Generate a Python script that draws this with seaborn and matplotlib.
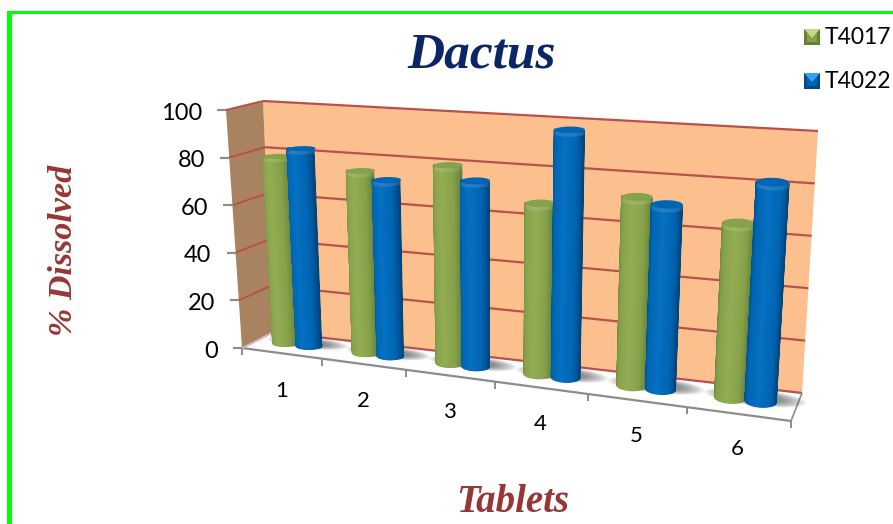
import numpy as np
import pandas as pd
import seaborn as sns
import matplotlib.pyplot as plt
from matplotlib.patches import Polygon, Rectangle
from matplotlib.transforms import Affine2D, Transform

# values
tablets = ["1", "2", "3", "4", "5", "6"]
t4017 = [79, 75.5, 80.5, 68, 73.5, 66.5]
t4022 = [83, 72.5, 75, 98, 71.5, 83]
y_ticks = [0, 20, 40, 60, 80, 100]

W, H = 893, 524
WALL = "#FCC08E"
SIDE = "#A9835F"
RED = "#B9504C"
GREY = "#8C8C8C"
# dark edge -> base -> highlight -> base -> dark edge
GREEN_SHADES = ["#66803A", "#86A24A", "#93AD54", "#86A24A", "#64803A"]
BLUE_SHADES = ["#00467F", "#0066B4", "#0670C2", "#0066B4", "#00467F"]

# the box of the 3D chart, in image pixels: (front/back, bottom/top, left/right)
FL0, FR0 = np.array([242, 348.]), np.array([791, 421.])
FL1, FR1 = np.array([226, 110.]), np.array([808, 150.])
BL0, BR0 = np.array([273, 332.]), np.array([802, 393.])
BL1, BR1 = np.array([263, 101.]), np.array([818, 131.])
K = 1.17  # perspective along the category axis
BAR_Z = 0.55
BAR_RZ = 0.21


def warp(x, v, z):
    """category position, value, depth (0 front, 1 back) -> image pixel"""
    x, v, z = np.asarray(x, float), np.asarray(v, float), np.asarray(z, float)
    u = (x + 0.5) / len(tablets)
    t = (u / (u + K * (1 - u)))[..., None]
    v = (v / 100)[..., None]
    z = z[..., None]
    front = (1 - v) * ((1 - t) * FL0 + t * FR0) + v * ((1 - t) * FL1 + t * FR1)
    back = (1 - v) * ((1 - t) * BL0 + t * BR0) + v * ((1 - t) * BL1 + t * BR1)
    return (1 - z) * front + z * back


class Warp(Transform):
    input_dims = output_dims = 2
    has_inverse = False

    def __init__(self, z):
        super().__init__()
        self.z = z

    def transform_non_affine(self, values):
        values = np.asarray(values)
        return warp(values[:, 0], values[:, 1], self.z)


sns.set_theme(style="white")
plt.rcParams["font.family"] = ["Lato", "DejaVu Sans"]

df = pd.DataFrame({
    "Tablet": tablets * 2,
    "Dissolved": t4017 + t4022,
    "Series": ["T4017"] * 6 + ["T4022"] * 6,
})

fig = plt.figure(figsize=(W / 100, H / 100), dpi=100)
ax = fig.add_axes([0, 0, 1, 1])
sns.barplot(data=df, x="Tablet", y="Dissolved", hue="Series",
            palette=["#86A24A", "#0066B4"], width=0.6, gap=0, legend=False,
            errorbar=None, saturation=1, ax=ax)
bars = list(ax.patches)
ax.set_axis_off()

px = Affine2D().scale(1, -1).translate(0, H)


def poly(points, **kw):
    kw.setdefault("lw", 0)
    p = Polygon(points, closed=True, transform=px, clip_on=False, **kw)
    ax.add_patch(p)
    return p


def line(points, color, lw, zorder=2):
    points = np.array(points)
    ax.plot(points[:, 0], points[:, 1], color=color, lw=lw, transform=px,
            clip_on=False, zorder=zorder, solid_capstyle="butt")


# green frame of the pasted picture
ax.add_patch(Rectangle((7, 11), 5, H, color="#00FF00", lw=0, transform=px, zorder=1))
ax.add_patch(Rectangle((7, 11), W, 2.5, color="#00FF00", lw=0, transform=px, zorder=1))

# walls and floor
xs = np.linspace(-0.5, 5.5, 40)
edge = lambda v, z: warp(xs, np.full_like(xs, v), np.full_like(xs, z))
poly(np.vstack([edge(0, 1), edge(100, 1)[::-1]]), color=WALL, zorder=1)
poly([warp(-0.5, 0, 0), warp(-0.5, 100, 0), warp(-0.5, 100, 1), warp(-0.5, 0, 1)],
     color=SIDE, zorder=1)
poly(np.vstack([edge(0, 0), edge(0, 1)[::-1]]), color="white", zorder=1)
for v in y_ticks:
    line(edge(v, 1), RED, 1.6)
    line([warp(-0.5, v, 0), warp(-0.5, v, 1)], RED, 1.4)
    a = warp(-0.5, v, 0)
    line([a, a - [9, 0]], GREY, 1.6)
    ax.text(a[0] - 24, a[1] + 3, str(v), ha="right", va="center", fontsize=17,
            color="black", transform=px)

# floor outline, ticks and category labels
line(edge(0, 0), GREY, 1.6, zorder=3)
line([warp(5.5, 0, 0), warp(5.5, 0, 1)], GREY, 1.2, zorder=3)
line([warp(-0.5, 0, 0), warp(-0.5, 0, 1)], "#D0D0D0", 1, zorder=3)
for i in range(len(tablets) + 1):
    a = warp(i - 0.5, 0, 0)
    line([a, a + [0, 7]], GREY, 1.4, zorder=3)
for i, name in enumerate(tablets):
    a = warp(i, 0, 0)
    ax.text(a[0] - 0.2 * i, a[1] + 37.5 - 0.4 * i, name, ha="center", va="center",
            fontsize=16, color="black", transform=px)

# soft shadows under each pair of bars, thrown towards the back right
for i in range(len(tablets)):
    for s in np.linspace(1, 0.5, 14):
        th = np.linspace(0, 2 * np.pi, 50)
        poly(warp(i + 0.08 + 0.5 * s * np.cos(th),
                  np.zeros_like(th),
                  np.clip(0.66 + 0.3 * s * np.sin(th), 0, 1)),
             color="#444444", alpha=0.06, zorder=4)

# turn the seaborn bars into cylinders standing on the warped floor
order = sorted(range(len(bars)), key=lambda j: (j % 6, j // 6))
z = 5
for j in order:
    bar = bars[j]
    shades = GREEN_SHADES if j < 6 else BLUE_SHADES
    cx = bar.get_x() + bar.get_width() / 2
    r = bar.get_width() / 2
    h = bar.get_height()
    bar.set_transform(Warp(BAR_Z) + px)
    bar.set_clip_on(False)
    bar.set_linewidth(0)
    bar.set_zorder(z)

    n = 40
    th = np.linspace(np.pi, 2 * np.pi, n + 1)
    bx, bz = cx + r * np.cos(th), BAR_Z + BAR_RZ * np.sin(th)
    ramp = sns.blend_palette(shades, n_colors=n)
    for k in range(n):
        poly([warp(bx[k], 0, bz[k]), warp(bx[k + 1], 0, bz[k + 1]),
              warp(bx[k + 1], h, bz[k + 1]), warp(bx[k], h, bz[k])],
             facecolor=ramp[k], edgecolor=ramp[k], lw=0.9, zorder=z + 0.1)
    # rounded foot
    circle = np.linspace(0, 2 * np.pi, 60)
    foot = warp(cx + r * np.cos(circle), np.zeros_like(circle),
                BAR_Z + BAR_RZ * np.sin(circle))
    poly(foot, color=shades[1], zorder=z + 0.05)
    # lighter rim and cap
    rim = np.vstack([warp(bx, np.full_like(bx, h), bz),
                     warp(bx, np.full_like(bx, h - 1.5), bz)[::-1]])
    poly(rim, color="white", alpha=0.12, zorder=z + 0.2)
    cap = warp(cx + r * np.cos(circle), np.full_like(circle, h),
               BAR_Z + BAR_RZ * np.sin(circle))
    poly(cap, color=shades[1], zorder=z + 0.3)
    z += 1

# legend
for y0, name, base, light, dark in [(29, "T4017", "#86A24A", "#C4D784", "#66803A"),
                                    (73, "T4022", "#0066B4", "#35A3F0", "#004C88")]:
    ax.add_patch(Rectangle((804, y0), 16, 16, color=dark, lw=0, transform=px, zorder=30))
    poly([(807, y0 + 3), (817, y0 + 3), (817, y0 + 13), (807, y0 + 13)], color=base, zorder=31)
    poly([(804, y0), (820, y0), (812, y0 + 9)], color=light, zorder=32)
    ax.text(825, y0 + 9, name, ha="left", va="center", fontsize=16.5,
            color="black", transform=px)

# titles
fancy = dict(family="Liberation Serif", style="italic", weight="bold",
             ha="center", va="center", transform=px)
ax.text(482, 56, "Dactus", fontsize=37, color="#0B2566", **fancy)
ax.text(513, 502, "Tablets", fontsize=28, color="#953735", **fancy)
ax.text(63, 250, "% Dissolved", fontsize=24.5, color="#953735", rotation=90, **fancy)

fig.savefig("out.png", dpi=100)
